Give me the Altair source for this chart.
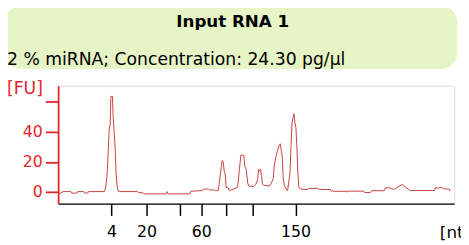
import altair as alt
import pandas as pd

# Electropherogram trace: migration position (arbitrary units) and fluorescence [FU]
pos = [1, 4, 5, 13, 14, 19, 20, 26, 27, 30, 31, 47, 48, 49, 50, 51, 52, 53, 53.7, 55.3, 56, 57, 58, 59, 60, 61, 62,
       81, 82, 86, 87, 110, 111, 112, 134, 135, 147, 148, 153, 154, 159, 160, 163, 164, 165.5, 167, 168, 169, 170, 171,
       173, 174, 178, 179, 182, 183, 184.5, 186, 189, 190, 191.5, 193, 194, 197, 199, 201, 203, 204, 205, 206, 207,
       208, 209, 215, 217, 219, 220, 221.5, 223, 225, 226, 227, 228, 229, 230, 232, 233.5, 235, 236, 237, 238, 239,
       240, 241, 242, 243, 244, 245, 247, 250, 254, 255, 265, 266, 277, 278, 279, 280, 293, 294, 296, 311, 312, 318,
       319, 332, 333, 338, 339, 343, 346, 350, 354, 357, 358, 383, 384, 387, 388, 391, 393, 398, 399]
fu = [-1.2, -0.2, 0.3, 0.3, -0.7, -0.7, 0.3, 0.3, -0.7, -0.7, 0.3, 0.3, 2, 6, 13, 27, 42, 45, 63.5, 63.5, 50, 40, 30,
      12, 4, 0.8, 0.3, 0.3, -0.4, -0.4, -1.2, -1.2, 0.3, -1.2, -1.2, 0.5, 1.0, 2.0, 2.0, 1.4, 1.4, 0.9, 1.2, 6, 14, 21,
      20, 14, 12, 3, 2.8, 1.2, 1.5, 2.5, 2.8, 5, 15, 24.5, 24.5, 17, 15, 6, 4, 3.8, 3.8, 5, 8, 15, 14, 15, 11, 5, 4.5,
      4, 6, 9, 18, 23, 27, 31, 32, 28, 24, 10, 5, 2, 1, 8, 13, 30, 46, 49, 52, 46, 43, 30, 12, 3, 2, 1.7, 1.7, 2.4, 2.4,
      1.7, 1.7, 0.4, 1.0, 0.5, 0.5, 0.0, 0.6, 0.6, -0.3, -0.3, 0.9, 0.9, 2.8, 2.8, 2.0, 2.0, 3.5, 5, 3, 1.7, 1.0, 1.0,
      3, 2.5, 3, 2.8, 2.0, 2.0, 0.6]

# Size ladder (nt) and their migration positions
ladder_pos = [54.3, 90, 124, 145.7, 170.5, 198.3, 241.7]
ladder_labels = ["4", "20", "", "60", "", "", "150"]

y_ticks = [0, 20, 40, 60]
y_tick_labels = ["0", "20", "40", ""]

title_text = "Input RNA 1"
subtitle_text = "2 % miRNA; Concentration: 24.30 pg/µl"

RED = "#e3262a"
TRACE = "#c8403f"
FONT = "DejaVu Sans"

df = pd.DataFrame({"pos": pos, "fu": fu})

x_expr = "".join(f"datum.value == {p} ? '{l}' : " for p, l in zip(ladder_pos, ladder_labels)) + "''"
y_expr = "".join(f"datum.value == {p} ? '{l}' : " for p, l in zip(y_ticks, y_tick_labels)) + "''"

x = alt.X("pos:Q",
          scale=alt.Scale(domain=[0, 403], nice=False, zero=False),
          axis=alt.Axis(values=ladder_pos, labelExpr=x_expr, grid=False,
                        domainColor="black", tickColor="black", tickSize=12, tickWidth=1.5, domainWidth=1.5,
                        labelColor="black", labelFont=FONT, labelFontSize=16, labelPadding=8,
                        labelFlush=False, labelOverlap=False,
                        title="[nt", titleFont=FONT, titleFontSize=17, titleFontWeight="normal",
                        titleColor="black", titleAnchor="start", titleAlign="left",
                        titleX=388, titleY=29, titleBaseline="middle"))
y = alt.Y("fu:Q",
          scale=alt.Scale(domain=[-7.7, 70.6], nice=False, zero=False),
          axis=alt.Axis(values=y_ticks, labelExpr=y_expr, grid=False,
                        domainColor=RED, tickColor=RED, tickSize=13, tickWidth=1.8, domainWidth=1.8,
                        labelColor=RED, labelFont=FONT, labelFontSize=16, labelPadding=3,
                        labelFlush=False, labelOverlap=False,
                        title="[FU]", titleFont=FONT, titleFontSize=17.5, titleFontWeight="normal",
                        titleColor=RED, titleAngle=0, titleAlign="right", titleBaseline="middle",
                        titleX=-16, titleY=3))

trace = alt.Chart(df).mark_line(color=TRACE, strokeWidth=1, interpolate="linear").encode(x=x, y=y)

one = pd.DataFrame({"t": [title_text], "s": [subtitle_text]})
box = alt.Chart(one).mark_rect(color="#e6f4c6", cornerRadius=16).encode(
    x=alt.value(-54), x2=alt.value(406), y=alt.value(-81), y2=alt.value(-17))
ttl = alt.Chart(one).mark_text(font=FONT, fontSize=17, fontWeight="bold", color="black",
                               align="center", baseline="alphabetic").encode(
    text="t:N", x=alt.value(177.7), y=alt.value(-59.5))
sub = alt.Chart(one).mark_text(font=FONT, fontSize=17.5, color="black",
                               align="left", baseline="alphabetic").encode(
    text="s:N", x=alt.value(-52), y=alt.value(-21.5))

chart = alt.layer(box, ttl, sub, trace).properties(
    width=403, height=120,
    autosize=alt.AutoSizeParams(type="none"),
    padding={"left": 51, "top": 77, "right": 7, "bottom": 40},
).configure_view(stroke=None).configure(background="white")

chart.save("out.html", embed_options={"renderer": "svg", "actions": False})
